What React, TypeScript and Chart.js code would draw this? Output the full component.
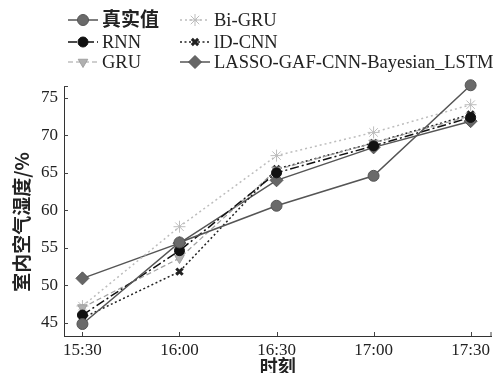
import React, { useEffect, useRef } from "react";
import { Chart, registerables } from "chart.js";
import { drawPoint } from "chart.js/helpers";

Chart.register(...registerables);

const timeLabels = ["15:30", "16:00", "16:30", "17:00", "17:30"];
const seriesNames = ["真实值", "RNN", "GRU", "Bi-GRU", "lD-CNN", "LASSO-GAF-CNN-Bayesian_LSTM"];
const actual = [44.8, 55.7, 60.6, 64.6, 76.7];
const rnn = [46.0, 54.6, 65.0, 68.6, 72.4];
const gru = [47.0, 53.6, 65.4, 69.0, 72.6];
const biGru = [47.2, 57.8, 67.3, 70.4, 74.1];
const cnn1d = [45.6, 51.8, 65.5, 69.0, 72.8];
const lasso = [50.9, 55.6, 64.0, 68.4, 71.9];
const yTicks = [45, 50, 55, 60, 65, 70, 75];

const SERIF = '"Liberation Serif", "Noto Sans CJK SC", serif';

const styles = [
  { color: "#555", fill: "#6a6a6a", dash: [], style: "circle", rot: 0, r: 5.5, width: 1.5 },
  { color: "#111", fill: "#111", dash: [9, 3, 2, 3], style: "circle", rot: 0, r: 5, width: 1.5 },
  { color: "#a0a0a0", fill: "#b0b0b0", dash: [5, 3], style: "triangle", rot: 180, r: 5.5, width: 1.2 },
  { color: "#bdbdbd", fill: "#d0d0d0", dash: [2, 3], style: "star", rot: 0, r: 6, width: 1.5 },
  { color: "#222", fill: "#222", dash: [2, 2.5], style: "crossRot", rot: 0, r: 4.5, width: 1.5 },
  { color: "#555", fill: "#666", dash: [], style: "rectRot", rot: 0, r: 6.5, width: 1.5 },
];

const values = [actual, rnn, gru, biGru, cnn1d, lasso];

const decorPlugin = {
  id: "decor",
  afterDraw(chart: any) {
    const ctx = chart.ctx;
    const xs = chart.scales.x;
    const ys = chart.scales.y;
    const area = chart.chartArea;
    ctx.save();
    ctx.strokeStyle = "#444";
    ctx.lineWidth = 1;
    ctx.beginPath();
    yTicks.forEach((v) => {
      const y = Math.round(ys.getPixelForValue(v)) + 0.5;
      ctx.moveTo(area.left, y);
      ctx.lineTo(area.left + 4, y);
    });
    timeLabels.forEach((_, i) => {
      const x = Math.round(xs.getPixelForValue(i)) + 0.5;
      ctx.moveTo(x, area.bottom);
      ctx.lineTo(x, area.bottom - 4);
    });
    ctx.moveTo(area.left, area.top + 0.5);
    ctx.lineTo(area.left + 4, area.top + 0.5);
    ctx.moveTo(area.right - 0.5, area.bottom);
    ctx.lineTo(area.right - 0.5, area.bottom - 4);
    ctx.stroke();

    ctx.fillStyle = "#222";
    ctx.font = 'bold 18px "Noto Sans CJK SC", sans-serif';
    ctx.textAlign = "center";
    ctx.textBaseline = "middle";
    ctx.fillText("时刻", (area.left + area.right) / 2, 366);
    ctx.save();
    ctx.translate(22, 222);
    ctx.rotate(-Math.PI / 2);
    ctx.font = 'bold 19px "Noto Sans CJK SC", sans-serif';
    ctx.fillText("室内空气湿度/%", 0, 0);
    ctx.restore();

    const cols = [{ x0: 68, x1: 98, tx: 102 }, { x0: 180, x1: 210, tx: 214 }];
    const rows = [20, 42, 62];
    seriesNames.forEach((name, i) => {
      const c = cols[Math.floor(i / 3)];
      const y = rows[i % 3];
      const s = styles[i];
      ctx.strokeStyle = s.color;
      ctx.lineWidth = s.width;
      ctx.setLineDash(s.dash);
      ctx.beginPath();
      ctx.moveTo(c.x0, y);
      ctx.lineTo(c.x1, y);
      ctx.stroke();
      ctx.setLineDash([]);
      ctx.fillStyle = s.fill;
      ctx.strokeStyle = s.color;
      ctx.lineWidth = s.style === "crossRot" ? 3 : 1;
      drawPoint(ctx, { pointStyle: s.style, rotation: s.rot, radius: s.r, borderWidth: ctx.lineWidth }, (c.x0 + c.x1) / 2, y);
      ctx.fillStyle = "#222";
      ctx.textAlign = "left";
      ctx.textBaseline = "middle";
      ctx.font = i === 0 ? `bold 19px ${SERIF}` : `18.5px ${SERIF}`;
      ctx.fillText(name, c.tx, y + 1);
    });
    ctx.restore();
  },
};

export default function App() {
  const ref = useRef<HTMLCanvasElement>(null);
  useEffect(() => {
    if (!ref.current) return;
    const datasets = values.map((vals, i) => {
      const s = styles[i];
      return {
        label: seriesNames[i],
        data: vals.map((v, j) => ({ x: j, y: v })),
        borderColor: s.color,
        backgroundColor: s.fill,
        borderWidth: s.width,
        borderDash: s.dash,
        pointStyle: s.style,
        pointRotation: s.rot,
        pointRadius: s.r,
        pointBorderWidth: s.style === "crossRot" ? 3 : 1,
        pointBorderColor: s.color,
        pointBackgroundColor: s.fill,
        tension: 0,
        fill: false,
        clip: false,
      };
    });
    const chart = new Chart(ref.current, {
      type: "line",
      data: { datasets },
      options: {
        animation: false,
        responsive: false,
        layout: { padding: { top: 86, right: 5, left: 0, bottom: 0 } },
        plugins: { legend: { display: false }, tooltip: { enabled: false } },
        scales: {
          x: {
            type: "linear",
            min: -0.19,
            max: 4.215,
            afterBuildTicks: (scale: any) => {
              scale.ticks = timeLabels.map((_, i) => ({ value: i }));
            },
            afterFit: (scale: any) => {
              scale.height = 37;
            },
            grid: { display: false, drawTicks: false },
            border: { display: true, color: "#333", width: 1 },
            ticks: {
              callback: (v: any) => timeLabels[v] ?? "",
              color: "#222",
              font: { family: SERIF, size: 17 },
              padding: 4,
              maxRotation: 0,
              autoSkip: false,
            },
          },
          y: {
            min: 43.2,
            max: 76.6,
            afterBuildTicks: (scale: any) => {
              scale.ticks = yTicks.map((v) => ({ value: v }));
            },
            afterFit: (scale: any) => {
              scale.width = 64;
            },
            grid: { display: false, drawTicks: false },
            border: { display: true, color: "#333", width: 1 },
            ticks: {
              color: "#222",
              font: { family: SERIF, size: 17 },
              padding: 6,
            },
          },
        },
      },
      plugins: [decorPlugin],
    });
    return () => chart.destroy();
  }, []);
  return (
    <div style={{ position: "fixed", left: 0, top: 0, width: 499, height: 373, background: "#fff" }}>
      <canvas ref={ref} width={499} height={373} style={{ width: 499, height: 373 }} />
    </div>
  );
}
